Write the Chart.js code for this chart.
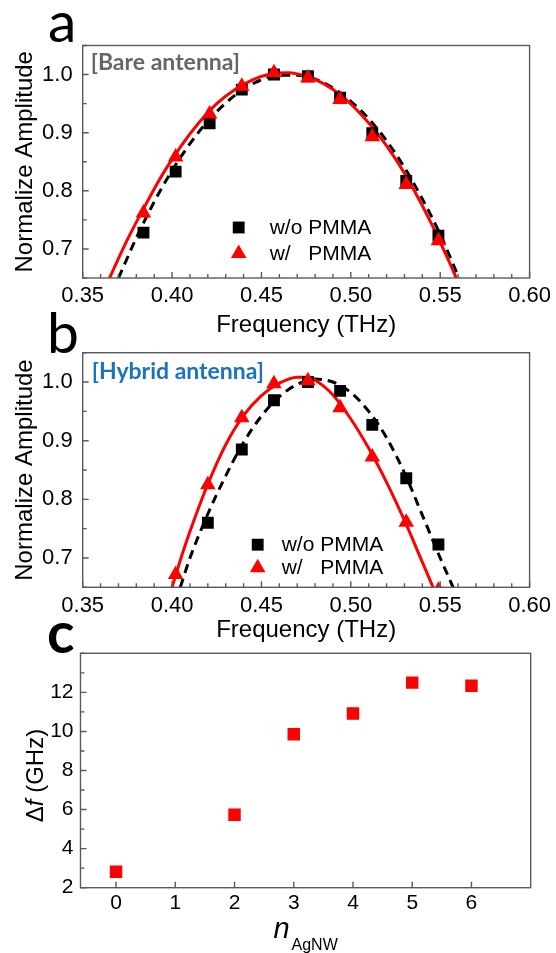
<!DOCTYPE html>
<html>
<head>
<meta charset="utf-8">
<script src="https://cdn.jsdelivr.net/npm/chart.js@4.4.1/dist/chart.umd.min.js"></script>
<style>
  html, body { margin: 0; padding: 0; background: #fff; }
  #wrap { position: relative; width: 556px; height: 953px; overflow: hidden; }
  #wrap canvas { position: absolute; left: 0; top: 0; }
</style>
</head>
<body>
<div id="wrap">
  <canvas id="chart-a" width="556" height="953"></canvas>
  <canvas id="chart-b" width="556" height="953"></canvas>
  <canvas id="chart-c" width="556" height="953"></canvas>
</div>
<script>
// ---- tick labels ----
const freqTicks = [0.35, 0.40, 0.45, 0.50, 0.55, 0.60];
const ampTicks = [0.7, 0.8, 0.9, 1.0];
const nTicks = [0, 1, 2, 3, 4, 5, 6];
const dfTicks = [2, 4, 6, 8, 10, 12];
const legendLabels = ['w/o PMMA', 'w/   PMMA'];

// ---- panel a: bare antenna ----
const bareFreq = [0.384, 0.402, 0.421, 0.439, 0.457, 0.476, 0.494, 0.512, 0.531, 0.549];
const bareNoPmma = [0.728, 0.833, 0.916, 0.974, 1.000, 0.997, 0.960, 0.899, 0.817, 0.723];
const barePmma = [0.762, 0.858, 0.932, 0.980, 1.003, 0.994, 0.957, 0.893, 0.811, 0.714];
// fitted curves
const bareFitNoX = [0.370, 0.380, 0.390, 0.400, 0.410, 0.420, 0.430, 0.440, 0.450, 0.460, 0.470, 0.480, 0.490, 0.500, 0.510, 0.520, 0.530, 0.540, 0.550, 0.5605];
const bareFitNoY = [0.650, 0.719, 0.781, 0.835, 0.881, 0.920, 0.951, 0.975, 0.991, 0.999, 0.999, 0.992, 0.977, 0.954, 0.924, 0.886, 0.840, 0.786, 0.725, 0.650];
const bareFitPmX = [0.365, 0.375, 0.385, 0.395, 0.405, 0.415, 0.425, 0.435, 0.445, 0.455, 0.465, 0.475, 0.485, 0.495, 0.505, 0.515, 0.525, 0.535, 0.545, 0.555, 0.559];
const bareFitPmY = [0.650, 0.716, 0.775, 0.830, 0.877, 0.917, 0.950, 0.974, 0.991, 1.001, 1.003, 0.997, 0.984, 0.963, 0.934, 0.898, 0.855, 0.803, 0.744, 0.678, 0.650];

// ---- panel b: hybrid antenna ----
const hybFreqNo = [0.420, 0.439, 0.457, 0.476, 0.494, 0.512, 0.531, 0.549];
const hybNoPmma = [0.760, 0.885, 0.969, 1.000, 0.985, 0.927, 0.836, 0.723];
const hybFreqPm = [0.402, 0.420, 0.439, 0.457, 0.476, 0.494, 0.512, 0.531, 0.549];
const hybPmma = [0.672, 0.825, 0.939, 0.997, 1.002, 0.956, 0.872, 0.761, 0.645];
const hybFitNoX = [0.4046, 0.410, 0.420, 0.430, 0.440, 0.450, 0.460, 0.470, 0.480, 0.490, 0.500, 0.510, 0.520, 0.530, 0.540, 0.550, 0.5572];
const hybFitNoY = [0.650, 0.700, 0.775, 0.840, 0.897, 0.942, 0.975, 0.996, 1.005, 1.000, 0.982, 0.950, 0.905, 0.845, 0.773, 0.700, 0.650];
const hybFitPmX = [0.400, 0.405, 0.410, 0.415, 0.420, 0.430, 0.440, 0.450, 0.460, 0.470, 0.475, 0.480, 0.490, 0.500, 0.510, 0.520, 0.530, 0.540, 0.546];
const hybFitPmY = [0.650, 0.700, 0.745, 0.787, 0.826, 0.893, 0.943, 0.977, 0.998, 1.008, 1.008, 1.003, 0.978, 0.937, 0.887, 0.829, 0.764, 0.693, 0.650];

// ---- panel c: shift vs number of AgNW ----
const nAgNW = [0, 2, 3, 4, 5, 6];
const deltaF = [2.82, 5.73, 9.86, 10.92, 12.50, 12.34];

const RED = '#ff0000';
const FRAME = '#5a5a5a';
Chart.defaults.font.family = '"Liberation Sans", Arial, sans-serif';
Chart.defaults.color = '#000';

const pts = (xs, ys) => xs.map((x, i) => ({ x, y: ys[i] }));

// frame, inward ticks, panel letter, note and legend
const decor = {
  id: 'decor',
  afterDatasetsDraw(chart, args, o) {
    const { ctx, chartArea: a, scales: { x, y } } = chart;
    ctx.save();
    ctx.strokeStyle = FRAME;
    ctx.lineWidth = 1.4;
    ctx.beginPath();
    const steps = (s, step) => {
      const out = [];
      if (!step) return out;
      const n = Math.round((s.max - s.min) / step);
      for (let i = 0; i <= n; i++) out.push(s.min + i * step);
      return out;
    };
    steps(x, o.xMinor).forEach(v => { const px = x.getPixelForValue(v); ctx.moveTo(px, a.bottom); ctx.lineTo(px, a.bottom - 4); });
    steps(y, o.yMinor).forEach(v => { const py = y.getPixelForValue(v); ctx.moveTo(a.left, py); ctx.lineTo(a.left + 4, py); });
    x.ticks.forEach(t => { const px = x.getPixelForValue(t.value); ctx.moveTo(px, a.bottom); ctx.lineTo(px, a.bottom - 6); });
    y.ticks.forEach(t => { const py = y.getPixelForValue(t.value); ctx.moveTo(a.left, py); ctx.lineTo(a.left + 6, py); });
    ctx.stroke();
    ctx.strokeRect(a.left, a.top, a.right - a.left, a.bottom - a.top);

    if (o.note) {
      ctx.font = 'bold 23px Lato, "Open Sans", sans-serif';
      ctx.fillStyle = o.note.color;
      ctx.textBaseline = 'middle';
      ctx.textAlign = 'left';
      ctx.fillText(o.note.text, a.left + o.note.dx, a.top + o.note.dy);
    }
    if (o.legend) {
      const L = o.legend;
      ctx.font = '21px "Liberation Sans", Arial, sans-serif';
      ctx.textBaseline = 'middle';
      ctx.textAlign = 'left';
      L.items.forEach((di, i) => {
        const ds = chart.data.datasets[di];
        const ly = a.top + L.dy + i * L.gap;
        ctx.fillStyle = ds.backgroundColor;
        Chart.helpers.drawPoint(ctx, { pointStyle: ds.pointStyle, radius: ds.pointRadius, rotation: 0, borderWidth: 0 }, a.left + L.dx, ly);
        ctx.fillStyle = '#000';
        ctx.fillText(ds.label, a.left + L.dx + L.textGap, ly + 1);
      });
    }
    if (o.tag) {
      ctx.font = (o.tag.weight || 'normal') + ' 57px Lato, "Open Sans", sans-serif';
      ctx.fillStyle = '#000';
      ctx.textBaseline = 'alphabetic';
      ctx.textAlign = 'left';
      ctx.fillText(o.tag.text, o.tag.x, o.tag.y);
    }
    if (o.rich) drawRichTitles(ctx, a);
    ctx.restore();
  }
};

// axis titles with italic parts and a subscript (panel c)
function drawRichTitles(ctx, a) {
  const norm = '24px "Liberation Sans", Arial, sans-serif';
  const ital = 'italic 24px "Liberation Sans", Arial, sans-serif';
  const segs = [['Δ', norm], ['f', ital], [' (GHz)', norm]];
  let w = 0;
  segs.forEach(s => { ctx.font = s[1]; w += ctx.measureText(s[0]).width; });
  ctx.save();
  ctx.translate(a.left - 44, (a.top + a.bottom) / 2 + 5);
  ctx.rotate(-Math.PI / 2);
  ctx.textBaseline = 'middle';
  ctx.textAlign = 'left';
  ctx.fillStyle = '#000';
  let cx = -w / 2;
  segs.forEach(s => { ctx.font = s[1]; ctx.fillText(s[0], cx, 0); cx += ctx.measureText(s[0]).width; });
  ctx.restore();

  const big = 'italic 29px "Liberation Sans", Arial, sans-serif';
  const sub = '16px "Liberation Sans", Arial, sans-serif';
  ctx.font = big; const wn = ctx.measureText('n').width;
  ctx.font = sub; const ws = ctx.measureText('AgNW').width;
  const x0 = (a.left + a.right) / 2 - (wn + 2 + ws) / 2;
  ctx.textBaseline = 'alphabetic';
  ctx.textAlign = 'left';
  ctx.fillStyle = '#000';
  ctx.font = big; ctx.fillText('n', x0, a.bottom + 50);
  ctx.font = sub; ctx.fillText('AgNW', x0 + wn + 2, a.bottom + 62);
}

function fixedTicks(vals) {
  return s => { s.ticks = vals.map(v => ({ value: v })); };
}

function ampChart(id, box, sets, deco) {
  return new Chart(document.getElementById(id), {
    type: 'scatter',
    data: { datasets: sets },
    options: {
      responsive: false,
      animation: false,
      layout: { padding: { left: 0, top: box.top, right: 556 - box.right, bottom: 953 - box.bottom - box.xh } },
      plugins: { legend: { display: false }, tooltip: { enabled: false }, decor: deco },
      scales: {
        x: {
          type: 'linear', min: 0.35, max: 0.60,
          afterBuildTicks: fixedTicks(freqTicks),
          afterFit: s => { s.height = box.xh; },
          grid: { display: false, drawTicks: false },
          border: { display: false },
          ticks: { font: { size: 22 }, padding: 5, maxRotation: 0, autoSkip: false, callback: v => v.toFixed(2) },
          title: { display: true, text: 'Frequency (THz)', font: { size: 24 }, padding: { top: 0, bottom: box.tpb } }
        },
        y: {
          type: 'linear', min: 0.65, max: 1.05,
          afterBuildTicks: fixedTicks(ampTicks),
          afterFit: s => { s.width = box.left; },
          grid: { display: false, drawTicks: false },
          border: { display: false },
          ticks: { font: { size: 22 }, padding: 10, autoSkip: false, callback: v => v.toFixed(1) },
          title: { display: true, text: 'Normalize Amplitude', font: { size: 24 }, padding: { top: 10.5, bottom: 0 } }
        }
      }
    },
    plugins: [decor]
  });
}

function fitSet(xs, ys, color, dash) {
  return { data: pts(xs, ys), showLine: true, borderColor: color, borderWidth: 3, borderDash: dash,
           pointRadius: 0, cubicInterpolationMode: 'monotone', fill: false };
}
function markSet(label, xs, ys, color, style, r, clip) {
  const d = { label, data: pts(xs, ys), pointStyle: style, pointRadius: r, backgroundColor: color,
              borderColor: color, borderWidth: 0, showLine: false };
  if (clip !== undefined) d.clip = clip;
  return d;
}

ampChart('chart-a', { left: 82.7, right: 532.3, top: 45.5, bottom: 278, xh: 62, tpb: 0.6 }, [
  markSet(legendLabels[1], bareFreq, barePmma, RED, 'triangle', 9),
  markSet(legendLabels[0], bareFreq, bareNoPmma, '#000', 'rect', 8.4),
  fitSet(bareFitPmX, bareFitPmY, RED, []),
  fitSet(bareFitNoX, bareFitNoY, '#000', [9, 6])
], {
  xMinor: 0.01, yMinor: 0.05,
  tag: { text: 'a', x: 48, y: 42 },
  note: { text: '[Bare antenna]', color: '#666666', dx: 8, dy: 17 },
  legend: { items: [1, 0], dx: 156, dy: 182, gap: 26, textGap: 31 }
});

ampChart('chart-b', { left: 82.7, right: 532.3, top: 352.7, bottom: 587.3, xh: 58, tpb: 0.6 }, [
  markSet(legendLabels[1], hybFreqPm, hybPmma, RED, 'triangle', 9, 0),
  markSet(legendLabels[0], hybFreqNo, hybNoPmma, '#000', 'rect', 8.4),
  fitSet(hybFitPmX, hybFitPmY, RED, []),
  fitSet(hybFitNoX, hybFitNoY, '#000', [9, 6])
], {
  xMinor: 0.01, yMinor: 0.05,
  tag: { text: 'b', x: 47, y: 353 },
  note: { text: '[Hybrid antenna]', color: '#1a74bd', dx: 9, dy: 19 },
  legend: { items: [1, 0], dx: 175, dy: 192, gap: 23, textGap: 24 }
});

new Chart(document.getElementById('chart-c'), {
  type: 'scatter',
  data: { datasets: [markSet('Δf', nAgNW, deltaF, RED, 'rect', 8.8)] },
  options: {
    responsive: false,
    animation: false,
    layout: { padding: { left: 0, top: 653.3, right: 556 - 530.7, bottom: 953 - 887.7 - 64 } },
    plugins: { legend: { display: false }, tooltip: { enabled: false },
               decor: { yMinor: 1, tag: { text: 'c', x: 47, y: 653, weight: 'bold' }, rich: true } },
    scales: {
      x: {
        type: 'linear', min: -0.6, max: 7,
        afterBuildTicks: fixedTicks(nTicks),
        afterFit: s => { s.height = 64; },
        grid: { display: false, drawTicks: false },
        border: { display: false },
        ticks: { font: { size: 21 }, padding: 3, maxRotation: 0, autoSkip: false },
        title: { display: false }
      },
      y: {
        type: 'linear', min: 2, max: 14,
        afterBuildTicks: fixedTicks(dfTicks),
        afterFit: s => { s.width = 80.5; },
        grid: { display: false, drawTicks: false },
        border: { display: false },
        ticks: { font: { size: 21 }, padding: 7, autoSkip: false },
        title: { display: false }
      }
    }
  },
  plugins: [decor]
});
</script>
</body>
</html>
